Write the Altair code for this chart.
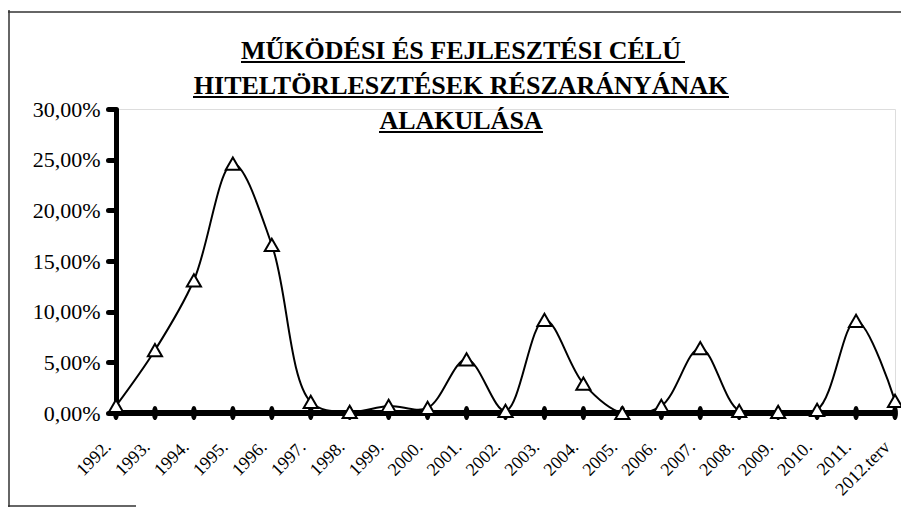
import altair as alt
import pandas as pd

years = ["1992.", "1993.", "1994.", "1995.", "1996.", "1997.", "1998.", "1999.",
         "2000.", "2001.", "2002.", "2003.", "2004.", "2005.", "2006.", "2007.",
         "2008.", "2009.", "2010.", "2011.", "2012.terv"]
share_pct = [0.7, 6.2, 13.1, 24.6, 16.6, 1.1, 0.1, 0.7, 0.5, 5.3, 0.2, 9.2, 2.9,
             0.0, 0.7, 6.4, 0.2, 0.1, 0.3, 9.1, 1.2]
other_pct = [0.0] * len(years)

title_lines = ["MŰKÖDÉSI ÉS FEJLESZTÉSI CÉLÚ",
               "HITELTÖRLESZTÉSEK RÉSZARÁNYÁNAK",
               "ALAKULÁSA"]

df = pd.DataFrame({
    "year": years,
    "share": [v / 100 for v in share_pct],
    "other": [v / 100 for v in other_pct],
})

SERIF = "Liberation Serif"

x_enc = alt.X("year:N", sort=years,
              scale=alt.Scale(type="point", padding=0),
              axis=alt.Axis(title=None, labelAngle=-45, labelFont=SERIF,
                            labelFontSize=18, labelColor="black",
                            labelAlign="right", labelBaseline="middle",
                            labelPadding=31, labelOffset=-8,
                            domain=False, ticks=False))
y_scale = alt.Scale(domain=[0, 0.30], nice=False, zero=True)
y_axis = alt.Axis(title=None, values=[0, 0.05, 0.10, 0.15, 0.20, 0.25, 0.30],
                  labelExpr="replace(format(datum.value, '.2%'), '.', ',')",
                  labelFont=SERIF, labelFontSize=22, labelColor="black",
                  labelPadding=8, domainColor="black", domainWidth=5,
                  tickColor="black", tickWidth=5, tickSize=8, tickCap="round",
                  grid=False)

base = alt.Chart(df)

zero_line = base.mark_line(color="black", strokeWidth=6).encode(
    x=x_enc, y=alt.Y("other:Q", scale=y_scale, axis=y_axis))
zero_marks = base.mark_point(
    shape="M0,-1 C0.55,-1 0.55,1 0,1 C-0.55,1 -0.55,-1 0,-1 Z",
    filled=True, color="black", opacity=1, size=200).encode(
    x=x_enc, y=alt.Y("other:Q", scale=y_scale))
share_line = base.mark_line(color="black", strokeWidth=2,
                            interpolate="catmull-rom").encode(
    x=x_enc, y=alt.Y("share:Q", scale=y_scale))
share_marks = base.mark_point(shape="triangle-up", filled=True, fill="white",
                              stroke="black", strokeWidth=2, opacity=1,
                              size=200).encode(
    x=x_enc, y=alt.Y("share:Q", scale=y_scale))

one = pd.DataFrame({"a": [0]})


def hrule(x1, x2, y, w=2, color="black"):
    return alt.Chart(one).mark_rule(color=color, strokeWidth=w).encode(
        x=alt.value(x1), x2=alt.value(x2), y=alt.value(y))


def vrule(x, y1, y2, w=1.5, color="#333333"):
    return alt.Chart(one).mark_rule(color=color, strokeWidth=w).encode(
        x=alt.value(x), y=alt.value(y1), y2=alt.value(y2))


def title_text(line, y):
    return alt.Chart(one).mark_text(font=SERIF, fontSize=26, fontWeight="bold",
                                    color="black", align="center",
                                    baseline="alphabetic").encode(
        x=alt.value(345), y=alt.value(y), text=alt.value(line))


titles = [title_text(title_lines[0], -50), title_text(title_lines[1], -15),
          title_text(title_lines[2], 20)]
underlines = [hrule(125, 569, -47), hrule(77, 613, -12), hrule(263, 427, 23)]
frame = [hrule(-108, 785, -97, 1.5, "#333333"),
         vrule(-107, -99, 398),
         hrule(-108, 20, 397, 1.5, "#333333")]

chart = alt.layer(
    zero_line, zero_marks, share_line, share_marks, *titles, *underlines, *frame
).properties(
    width=779, height=304,
    autosize=alt.AutoSizeParams(type="none"),
    padding={"left": 108, "top": 101, "right": 6, "bottom": 95},
).configure_view(
    stroke="black", strokeWidth=1.5
).configure(background="white")

chart.save("out.html", embed_options={"renderer": "svg", "actions": False})
